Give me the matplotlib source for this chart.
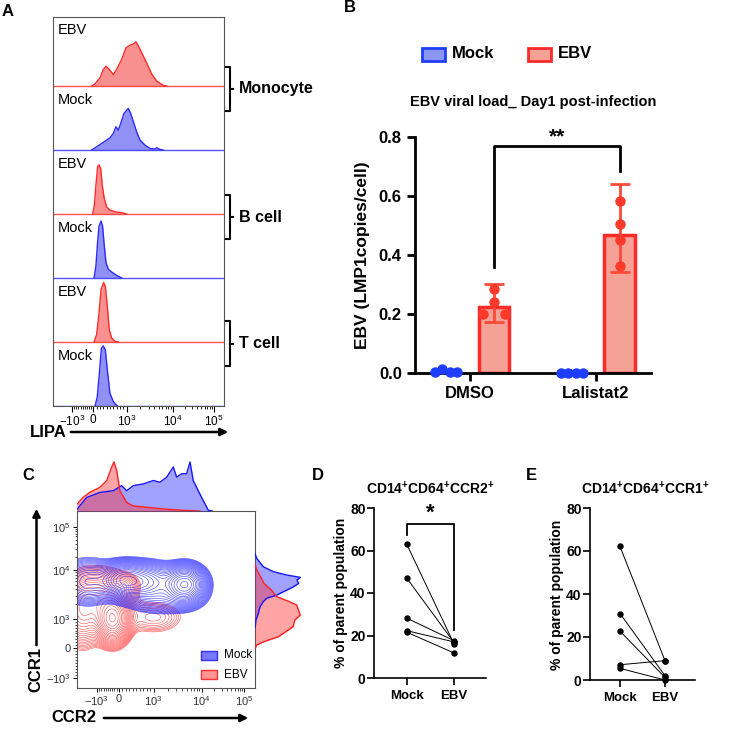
import matplotlib
matplotlib.use("Agg")
import matplotlib.pyplot as plt
from matplotlib.lines import Line2D
from matplotlib.patches import Rectangle, FancyArrowPatch
import numpy as np

plt.rcParams["font.family"] = ["Liberation Sans", "DejaVu Sans"]
plt.rcParams["mathtext.fontset"] = "custom"
plt.rcParams["mathtext.rm"] = "Liberation Sans"
plt.rcParams["mathtext.it"] = "Liberation Sans:italic"
plt.rcParams["mathtext.bf"] = "Liberation Sans:bold"

# ---------------- data ----------------
# panel A: LIPA histograms, x = display channel (0-1000), height = fraction of one row
A_ROW_LABELS = ["EBV", "Mock", "EBV", "Mock", "EBV", "Mock"]
A_GROUPS = ["Monocyte", "B cell", "T cell"]
MONO_EBV_CH = [226, 246, 275, 294, 310, 329, 353, 372, 402, 427, 450, 470, 485, 499, 519, 548, 577, 606, 645, 665]
MONO_EBV_H = [0, .036, .13, .26, .31, .26, .18, .26, .42, .60, .64, .66, .69, .63, .52, .36, .19, .08, .01, 0]
MONO_MOCK_CH = [226, 255, 285, 314, 333, 353, 368, 382, 396, 415, 431, 441, 454, 470, 489, 509, 538, 567, 596, 606, 626, 645]
MONO_MOCK_H = [0, .052, .104, .156, .193, .26, .365, .313, .417, .573, .625, .651, .573, .443, .286, .156, .078, .026, .016, .036, .010, 0]
BCELL_EBV_CH = [232, 242, 251, 261, 269, 279, 288, 300, 314, 333, 363, 402, 431]
BCELL_EBV_H = [0, .14, .45, .74, .77, .71, .45, .24, .11, .063, .036, .021, 0]
BCELL_MOCK_CH = [240, 251, 259, 269, 281, 290, 300, 310, 324, 343, 372, 402]
BCELL_MOCK_H = [0, .19, .50, .81, .89, .81, .50, .24, .135, .094, .042, 0]
TCELL_EBV_CH = [240, 255, 269, 281, 296, 306, 318, 329, 343, 363, 382]
TCELL_EBV_H = [0, .115, .45, .82, .93, .87, .55, .19, .063, .010, 0]
TCELL_MOCK_CH = [246, 259, 271, 283, 294, 306, 318, 333, 353, 376]
TCELL_MOCK_H = [0, .146, .51, .90, .94, .875, .56, .198, .068, 0]

# biexponential axis: tick labels and their display channels
BIEX_LABELS = [r"$-10^{3}$", "0", r"$10^{3}$", r"$10^{4}$", r"$10^{5}$"]
BIEX_X_CH = [112, 235, 430, 700, 940]
BIEX_Y_CH = [56, 226, 390, 667, 910]

# panel B: EBV viral load
B_GROUPS = ["DMSO", "Lalistat2"]
B_MOCK_POINTS = [[0.002, 0.015, 0.002, 0.002], [0.0, 0.0, 0.0, 0.0]]
B_EBV_POINTS = [[0.199, 0.284, 0.242, 0.199], [0.583, 0.505, 0.451, 0.364]]
B_EBV_MEAN = [0.225, 0.468]
B_EBV_LOW = [0.172, 0.344]
B_EBV_HIGH = [0.301, 0.642]

# panel C: CCR2 / CCR1 populations (cluster centres and spreads, display channels)
MOCK_CX = [607, 371, 258, 60, 480]
MOCK_CY = [585, 600, 610, 600, 500]
MOCK_SX = [60, 100, 65, 80, 110]
MOCK_SY = [55, 55, 50, 65, 45]
MOCK_W = [1.0, 0.6, 0.6, 0.3, 0.15]
EBV_CX = [200, 130, 30, 430, 270]
EBV_CY = [390, 520, 430, 400, 580]
EBV_SX = [50, 90, 60, 100, 50]
EBV_SY = [70, 80, 100, 55, 40]
EBV_W = [1.0, 0.3, 0.35, 0.1, 0.1]
CCR2_MOCK_CH = [0, 54, 129, 204, 251, 279, 316, 373, 429, 466, 504, 541, 560, 588, 616, 635, 653, 681, 710, 738, 760]
CCR2_MOCK_PCT = [3.5, 27.6, 37.9, 41.4, 51.7, 41.4, 51.7, 55.2, 62.1, 58.6, 69.0, 89.7, 69.0, 75.9, 75.9, 100, 62.1, 41.4, 20.7, 1.4, 0]
CCR2_EBV_CH = [0, 34, 71, 129, 167, 195, 208, 223, 241, 279, 316, 410, 504, 597, 691]
CCR2_EBV_PCT = [13.9, 27.6, 37.9, 48.3, 62.1, 89.7, 100, 82.8, 41.4, 17.2, 10.3, 6.9, 3.5, 1.4, 0]
CCR1_MOCK_CH = [760, 733, 685, 657, 638, 625, 610, 591, 572, 544, 525, 507, 488, 459, 422, 384, 340]
CCR1_MOCK_PCT = [0, 3.7, 18.4, 40.7, 70.4, 100, 92.6, 96.3, 85.2, 63, 48.1, 25.9, 18.4, 11.1, 7.4, 2.2, 0]
CCR1_EBV_CH = [700, 667, 591, 554, 516, 488, 469, 441, 412, 384, 346, 318, 290, 262, 243, 224]
CCR1_EBV_PCT = [0, 4, 20, 36, 48, 76, 92, 96, 100, 88, 84, 68, 52, 20, 4, 0]

# panels D / E: paired % of parent population
PAIR_GROUPS = ["Mock", "EBV"]
CCR2_MOCK = [63.1, 47.1, 28.2, 22.3, 21.6]
CCR2_EBV = [16.2, 16.8, 17.6, 17.0, 11.8]
CCR1_MOCK = [62.1, 30.9, 22.7, 7.1, 5.4]
CCR1_EBV = [9.0, 2.0, 1.2, 9.0, 0.0]

# ---------------- layout helpers ----------------
W, H = 748, 730
RED, BLUE = "#ff2a2a", "#2a2aff"
RED_FILL, BLUE_FILL = "#f99090", "#9090f5"


def rect(l, t, r, b):
    return [l / W, 1 - b / H, (r - l) / W, (b - t) / H]


def fx(x):
    return x / W


def fy(y):
    return 1 - y / H


def fig_line(fig, xs, ys, lw=1.5):
    fig.add_artist(Line2D([fx(x) for x in xs], [fy(y) for y in ys],
                          transform=fig.transFigure, color="k", lw=lw))


def fig_arrow(fig, x0, y0, x1, y1):
    fig.add_artist(FancyArrowPatch((fx(x0), fy(y0)), (fx(x1), fy(y1)),
                                   transform=fig.transFigure, arrowstyle="-|>",
                                   mutation_scale=11, lw=1.8, color="k"))


def biex_minors(major):
    neg, zero, d3, d4, d5 = major
    out = [zero + (neg - zero) * m / 10 for m in range(1, 10)]
    out += [zero + (d3 - zero) * m / 10 for m in range(1, 10)]
    for lo, hi in [(d3, d4), (d4, d5)]:
        out += [lo + np.log10(m) * (hi - lo) for m in range(2, 10)]
    return out


fig = plt.figure(figsize=(W / 100, H / 100), dpi=100)

# ---------------- panel A ----------------
axA = fig.add_axes(rect(53, 17, 224, 406))
hists = [(MONO_EBV_CH, MONO_EBV_H), (MONO_MOCK_CH, MONO_MOCK_H),
         (BCELL_EBV_CH, BCELL_EBV_H), (BCELL_MOCK_CH, BCELL_MOCK_H),
         (TCELL_EBV_CH, TCELL_EBV_H), (TCELL_MOCK_CH, TCELL_MOCK_H)]
for i, ((ch, h), lab) in enumerate(zip(hists, A_ROW_LABELS)):
    base = 5 - i
    edge, fill = (RED, RED_FILL) if lab == "EBV" else (BLUE, BLUE_FILL)
    h = np.asarray(h)
    axA.fill_between(ch, base, base + h, color=fill, lw=0)
    axA.plot(ch, base + h, color=edge, lw=1.0)
    axA.axhline(base, color=edge, lw=1.0, alpha=0.8)
    axA.text(25, base + (0.87 if i == 0 else 0.78), lab, fontsize=10.5, ha="left", va="center")
axA.set_xlim(0, 1000)
axA.set_ylim(0, 6.08)
axA.set_yticks([])
axA.set_xticks(BIEX_X_CH)
axA.set_xticklabels(BIEX_LABELS, fontsize=8.5)
axA.set_xticks(biex_minors(BIEX_X_CH), minor=True)
axA.tick_params(axis="x", which="major", length=4, width=0.8, pad=1.5)
axA.tick_params(axis="x", which="minor", length=2, width=0.6)
for sp in axA.spines.values():
    sp.set_color("#555555")
    sp.set_linewidth(0.8)

for name, (top, bot) in zip(A_GROUPS, [(67, 111), (195, 239), (321, 366)]):
    fig_line(fig, [226, 229.5, 229.5, 226], [top, top, bot, bot])
    fig_line(fig, [229.5, 233], [(top + bot) / 2] * 2)
    fig.text(fx(239), fy((top + bot) / 2), name, fontsize=11.5, fontweight="bold", va="center")

fig.text(fx(30), fy(433), "LIPA", fontsize=12, fontweight="bold", va="center")
fig_arrow(fig, 68, 432, 231, 432)
fig.text(fx(8), fy(11), "A", fontsize=12, fontweight="bold", ha="center", va="center")

# ---------------- panel B ----------------
axB = fig.add_axes(rect(415, 137, 651, 373))
xB = np.arange(len(B_GROUPS))
off = 0.19
jit_mock = [-0.09, -0.03, 0.03, 0.09]
jit_ebv = [[-0.09, 0, 0, 0.09], [0, 0, 0, 0]]
axB.bar(xB + off, B_EBV_MEAN, width=0.245, color="#f6a195", edgecolor=RED, lw=2.5, zorder=2)
for i in range(len(B_GROUPS)):
    m = B_EBV_MEAN[i]
    axB.errorbar(xB[i] + off, m, yerr=[[m - B_EBV_LOW[i]], [B_EBV_HIGH[i] - m]],
                 color="#ff4a3a", lw=2, capsize=7, capthick=2, zorder=3)
    axB.plot(xB[i] + off + np.array(jit_ebv[i]), B_EBV_POINTS[i], "o", color="#ff3a2a",
             ms=6.5, zorder=4, clip_on=False)
    axB.plot(xB[i] - off + np.array(jit_mock), B_MOCK_POINTS[i], "o", color="#1d3dff",
             ms=6.5, zorder=4, clip_on=False)
axB.plot([off, off, 1 + off, 1 + off], [0.36, 0.77, 0.77, 0.685], color="k", lw=2)
axB.text(0.5 + off, 0.80, "**", fontsize=15, fontweight="bold", ha="center", va="center")
axB.set_xlim(-0.437, 1.437)
axB.set_ylim(0, 0.8)
axB.set_yticks([0, 0.2, 0.4, 0.6, 0.8])
axB.set_yticklabels(["0.0", "0.2", "0.4", "0.6", "0.8"], fontsize=12, fontweight="bold")
axB.set_xticks(xB)
axB.set_xticklabels(B_GROUPS, fontsize=12, fontweight="bold")
axB.tick_params(length=6, width=2)
for s in ["top", "right"]:
    axB.spines[s].set_visible(False)
for s in ["left", "bottom"]:
    axB.spines[s].set_linewidth(2)
fig.text(fx(362), fy(255), "EBV (LMP1copies/cell)", rotation=90, fontsize=12.5,
         fontweight="bold", ha="center", va="center")
fig.text(fx(533), fy(102), "EBV viral load_ Day1 post-infection", fontsize=10.5,
         fontweight="bold", ha="center", va="center")
fig.add_artist(Rectangle((fx(422), fy(61)), 23 / W, 13 / H, transform=fig.transFigure,
                         facecolor="#8c96f0", edgecolor="#1d3dff", lw=2))
fig.text(fx(452), fy(54), "Mock", fontsize=12, fontweight="bold", va="center")
fig.add_artist(Rectangle((fx(528), fy(61)), 23 / W, 13 / H, transform=fig.transFigure,
                         facecolor="#f6a195", edgecolor=RED, lw=2))
fig.text(fx(558), fy(54), "EBV", fontsize=12, fontweight="bold", va="center")
fig.text(fx(350), fy(8), "B", fontsize=12, fontweight="bold", ha="center", va="center")

# ---------------- panel C ----------------
axC = fig.add_axes(rect(77, 511, 255, 688))
gx = np.linspace(0, 1000, 250)
X, Y = np.meshgrid(gx, gx)


def density(cx, cy, sx, sy, w):
    z = np.zeros_like(X)
    for a, b, c, d, e in zip(cx, cy, sx, sy, w):
        z += e * np.exp(-((X - a) ** 2 / (2 * c ** 2) + (Y - b) ** 2 / (2 * d ** 2)))
    return z


z_ebv = density(EBV_CX, EBV_CY, EBV_SX, EBV_SY, EBV_W)
z_mock = density(MOCK_CX, MOCK_CY, MOCK_SX, MOCK_SY, MOCK_W)
axC.contour(X, Y, z_ebv, levels=z_ebv.max() * np.geomspace(0.03, 0.95, 24),
            colors="#ff4545", linewidths=0.45, alpha=0.85)
axC.contour(X, Y, z_mock, levels=z_mock.max() * np.geomspace(0.03, 0.95, 24),
            colors="#2020ff", linewidths=0.45, alpha=0.8)
axC.set_xlim(0, 1000)
axC.set_ylim(0, 1000)
axC.set_xticks(BIEX_X_CH)
axC.set_xticklabels(BIEX_LABELS, fontsize=8, color="#333333")
axC.set_yticks(BIEX_Y_CH)
axC.set_yticklabels(BIEX_LABELS, fontsize=8, color="#333333")
axC.set_xticks(biex_minors(BIEX_X_CH), minor=True)
axC.set_yticks(biex_minors(BIEX_Y_CH), minor=True)
axC.tick_params(which="major", length=3, width=0.7, pad=1.5)
axC.tick_params(which="minor", length=1.8, width=0.5)
for sp in axC.spines.values():
    sp.set_color("#555555")
    sp.set_linewidth(0.8)

axCt = fig.add_axes(rect(77, 460, 255, 511))
axCt.fill_between(CCR2_MOCK_CH, 0, CCR2_MOCK_PCT, color="#3030ff", alpha=0.45, lw=0)
axCt.plot(CCR2_MOCK_CH, CCR2_MOCK_PCT, color="#1515ff", lw=1)
axCt.fill_between(CCR2_EBV_CH, 0, CCR2_EBV_PCT, color="#ff3535", alpha=0.45, lw=0)
axCt.plot(CCR2_EBV_CH, CCR2_EBV_PCT, color="#ff2020", lw=1)
axCt.set_xlim(0, 1000)
axCt.set_ylim(0, 104)
axCt.axis("off")

axCr = fig.add_axes(rect(255, 511, 303, 688))
axCr.fill_betweenx(CCR1_MOCK_CH, 0, CCR1_MOCK_PCT, color="#3030ff", alpha=0.45, lw=0)
axCr.plot(CCR1_MOCK_PCT, CCR1_MOCK_CH, color="#1515ff", lw=1)
axCr.fill_betweenx(CCR1_EBV_CH, 0, CCR1_EBV_PCT, color="#ff3535", alpha=0.45, lw=0)
axCr.plot(CCR1_EBV_PCT, CCR1_EBV_CH, color="#ff2020", lw=1)
axCr.set_ylim(0, 1000)
axCr.set_xlim(0, 106)
axCr.axis("off")

fig.add_artist(Rectangle((fx(201), fy(660)), 16 / W, 9 / H, transform=fig.transFigure,
                         facecolor="#6a6aff", edgecolor="#2020ff", lw=1, alpha=0.9))
fig.text(fx(224), fy(655.5), "Mock", fontsize=8.5, va="center")
fig.add_artist(Rectangle((fx(201), fy(679)), 16 / W, 9 / H, transform=fig.transFigure,
                         facecolor="#ff8a8a", edgecolor="#ff2020", lw=1, alpha=0.9))
fig.text(fx(224), fy(674.5), "EBV", fontsize=8.5, va="center")

fig.text(fx(36), fy(670), "CCR1", rotation=90, fontsize=12, fontweight="bold",
         ha="center", va="center")
fig_arrow(fig, 36.5, 648, 36.5, 506)
fig.text(fx(74), fy(718), "CCR2", fontsize=12, fontweight="bold", ha="center", va="center")
fig_arrow(fig, 101, 718, 251, 718)
fig.text(fx(28), fy(476), "C", fontsize=12, fontweight="bold", ha="center", va="center")


# ---------------- panels D, E ----------------
def paired(ax, mock, ebv, xlim):
    for a, b in zip(mock, ebv):
        ax.plot([0, 1], [a, b], color="k", lw=0.7)
    ax.plot(np.zeros(len(mock)), mock, "o", color="k", ms=3.6, clip_on=False, zorder=3)
    ax.plot(np.ones(len(ebv)), ebv, "o", color="k", ms=3.6, clip_on=False, zorder=3)
    ax.set_xlim(*xlim)
    ax.set_ylim(0, 80)
    ax.set_yticks([0, 20, 40, 60, 80])
    ax.set_yticklabels(["0", "20", "40", "60", "80"], fontsize=10, fontweight="bold")
    ax.set_xticks([0, 1])
    ax.set_xticklabels(PAIR_GROUPS, fontsize=9.5, fontweight="bold")
    ax.tick_params(length=5, width=1.2)
    ax.tick_params(axis="y", pad=1)
    for s in ["top", "right"]:
        ax.spines[s].set_visible(False)
    for s in ["left", "bottom"]:
        ax.spines[s].set_linewidth(1.2)


axD = fig.add_axes(rect(374, 508, 486, 678))
paired(axD, CCR2_MOCK, CCR2_EBV, (-0.69, 1.68))
axD.plot([0, 0, 1, 1], [67.5, 72.5, 72.5, 22.5], color="k", lw=1.3)
axD.text(0.5, 77.5, "*", fontsize=16, fontweight="bold", ha="center", va="center")
fig.text(fx(341), fy(593), "% of parent population", rotation=90, fontsize=10,
         fontweight="bold", ha="center", va="center")
fig.text(fx(430), fy(489), r"$\mathbf{CD14^{+}CD64^{+}CCR2^{+}}$", fontsize=10,
         ha="center", va="center")
fig.text(fx(318), fy(476), "D", fontsize=12, fontweight="bold", ha="center", va="center")

axE = fig.add_axes(rect(590, 508, 695, 680))
paired(axE, CCR1_MOCK, CCR1_EBV, (-0.667, 1.667))
fig.text(fx(557), fy(595), "% of parent population", rotation=90, fontsize=10,
         fontweight="bold", ha="center", va="center")
fig.text(fx(645), fy(489), r"$\mathbf{CD14^{+}CD64^{+}CCR1^{+}}$", fontsize=10,
         ha="center", va="center")
fig.text(fx(531), fy(476), "E", fontsize=12, fontweight="bold", ha="center", va="center")

fig.savefig("out.png", dpi=100)
